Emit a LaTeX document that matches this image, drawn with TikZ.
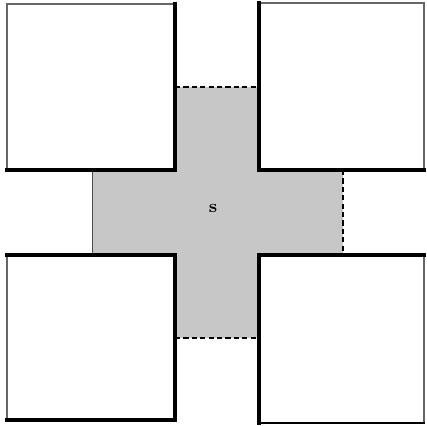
\documentclass[tikz,border=0pt]{standalone}
\begin{document}
\begin{tikzpicture}
[x=0.5pt,y=-0.5pt,
  armfill/.style={fill=black!22},
  openend/.style={dash pattern=on 2.6pt off 1.6pt,line width=1pt},
  closedend/.style={line width=0.5pt,black!70},
  blockdecorate/.style={fill=white,draw=black!60,line width=0.8pt},
  walldecorate/.style={line width=1.6pt,line cap=rect}]
\useasboundingbox (0,0) rectangle (427,425);
%% gray cross
\fill[armfill] (175,87) rectangle (259,338);
\fill[armfill] (92,170) rectangle (343,255);
\node (s) at (213,208) {\small\bfseries s};
%% ends of the arms
\draw[openend] (175,87) -- (259,87);
\draw[openend] (343,170) -- (343,255);
\draw[openend] (175,338) -- (259,338);
\draw[closedend] (92,170) -- (92,255);
%% blocks
\foreach \blockname/\xa/\ya/\xb/\yb in {nw/7/4/175/170, ne/259/3/424/170,
  sw/7/255/175/420, se/259/255/424/423}
{
  \draw[blockdecorate] (\xa,\ya) rectangle (\xb,\yb);
  \coordinate (\blockname-a) at (\xa,\ya);
  \coordinate (\blockname-b) at (\xb,\yb);
}
%% walls facing the cross
\draw[walldecorate] (nw-a |- nw-b) -- (nw-b) -- (nw-b |- nw-a);
\draw[walldecorate] (ne-a) -- (ne-a |- ne-b) -- (ne-b);
\draw[walldecorate] (sw-a) -- (sw-a -| sw-b) -- (sw-b) -- (sw-b -| sw-a);
\draw[walldecorate] (se-a |- se-b) -- (se-a) -- (se-a -| se-b);
\draw[walldecorate,line width=1.2pt] (se-a |- se-b) -- (se-b);
\end{tikzpicture}
\end{document}
